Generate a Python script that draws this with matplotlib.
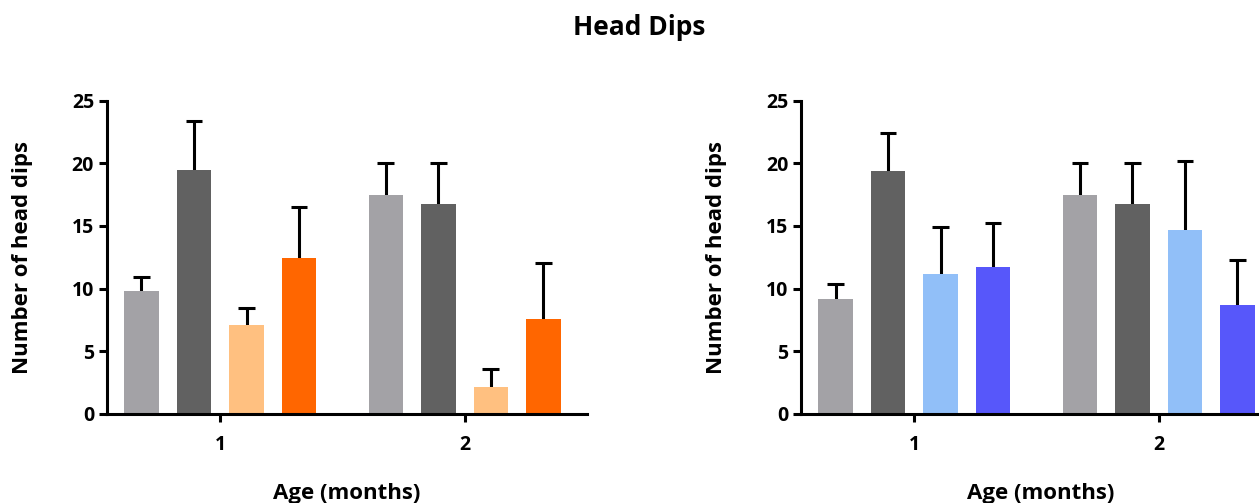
import numpy as np
import matplotlib.pyplot as plt

plt.rcParams['font.family'] = ['Open Sans', 'DejaVu Sans']
plt.rcParams['font.weight'] = 'bold'

# age groups (months)
ages = [1, 2]

# left panel: mean and upper error per group
left_means = [
    [9.8, 17.5],
    [19.45, 16.75],
    [7.1, 2.15],
    [12.45, 7.6],
]
left_upper = [
    [10.95, 20.05],
    [23.4, 20.0],
    [8.45, 3.55],
    [16.5, 12.05],
]
left_colors = ['#a3a2a6', '#616161', '#ffc080', '#ff6600']

# right panel
right_means = [
    [9.2, 17.5],
    [19.4, 16.75],
    [11.15, 14.65],
    [11.75, 8.7],
]
right_upper = [
    [10.4, 20.05],
    [22.45, 20.0],
    [14.9, 20.15],
    [15.2, 12.3],
]
right_colors = ['#a3a2a6', '#616161', '#91bff8', '#5757fa']

LW = 2.2


def draw_panel(ax, means, upper, colors):
    x = np.array(ages, dtype=float)
    step = 0.215
    width = 0.141
    cap = 0.034
    n = len(means)
    for i, (m, u, c) in enumerate(zip(means, upper, colors)):
        xi = x + (i - (n - 1) / 2) * step
        ax.bar(xi, m, width=width, color=c, edgecolor='none', zorder=2)
        # upper-only error bars with a cap
        ax.vlines(xi, m, u, color='black', lw=LW, zorder=1)
        ax.hlines(u, xi - cap, xi + cap, color='black', lw=LW, zorder=1)
    ax.set_xlim(0.535, 2.5)
    ax.set_ylim(0, 25)
    ax.set_yticks([0, 5, 10, 15, 20, 25])
    ax.set_xticks(ages)
    for s in ['top', 'right']:
        ax.spines[s].set_visible(False)
    for s in ['left', 'bottom']:
        ax.spines[s].set_linewidth(LW)
    ax.tick_params(axis='both', width=LW, length=6, labelsize=14, pad=3)
    ax.tick_params(axis='x', pad=9)
    for lab in ax.get_xticklabels() + ax.get_yticklabels():
        lab.set_fontweight('bold')
    ax.set_ylabel('Number of head dips', fontsize=16, fontweight='bold', labelpad=28)
    ax.set_xlabel('Age (months)', fontsize=16, fontweight='bold', labelpad=20)


fig = plt.figure(figsize=(12.59, 5.03), dpi=100)
ax1 = fig.add_axes([0.0847, 0.177, 0.3813, 0.623])
ax2 = fig.add_axes([0.636, 0.177, 0.3813, 0.623])
draw_panel(ax1, left_means, left_upper, left_colors)
draw_panel(ax2, right_means, right_upper, right_colors)

fig.text(0.508, 0.945, 'Head Dips', ha='center', va='center',
         fontsize=19, fontweight='bold')

fig.savefig('out.png', dpi=100)
